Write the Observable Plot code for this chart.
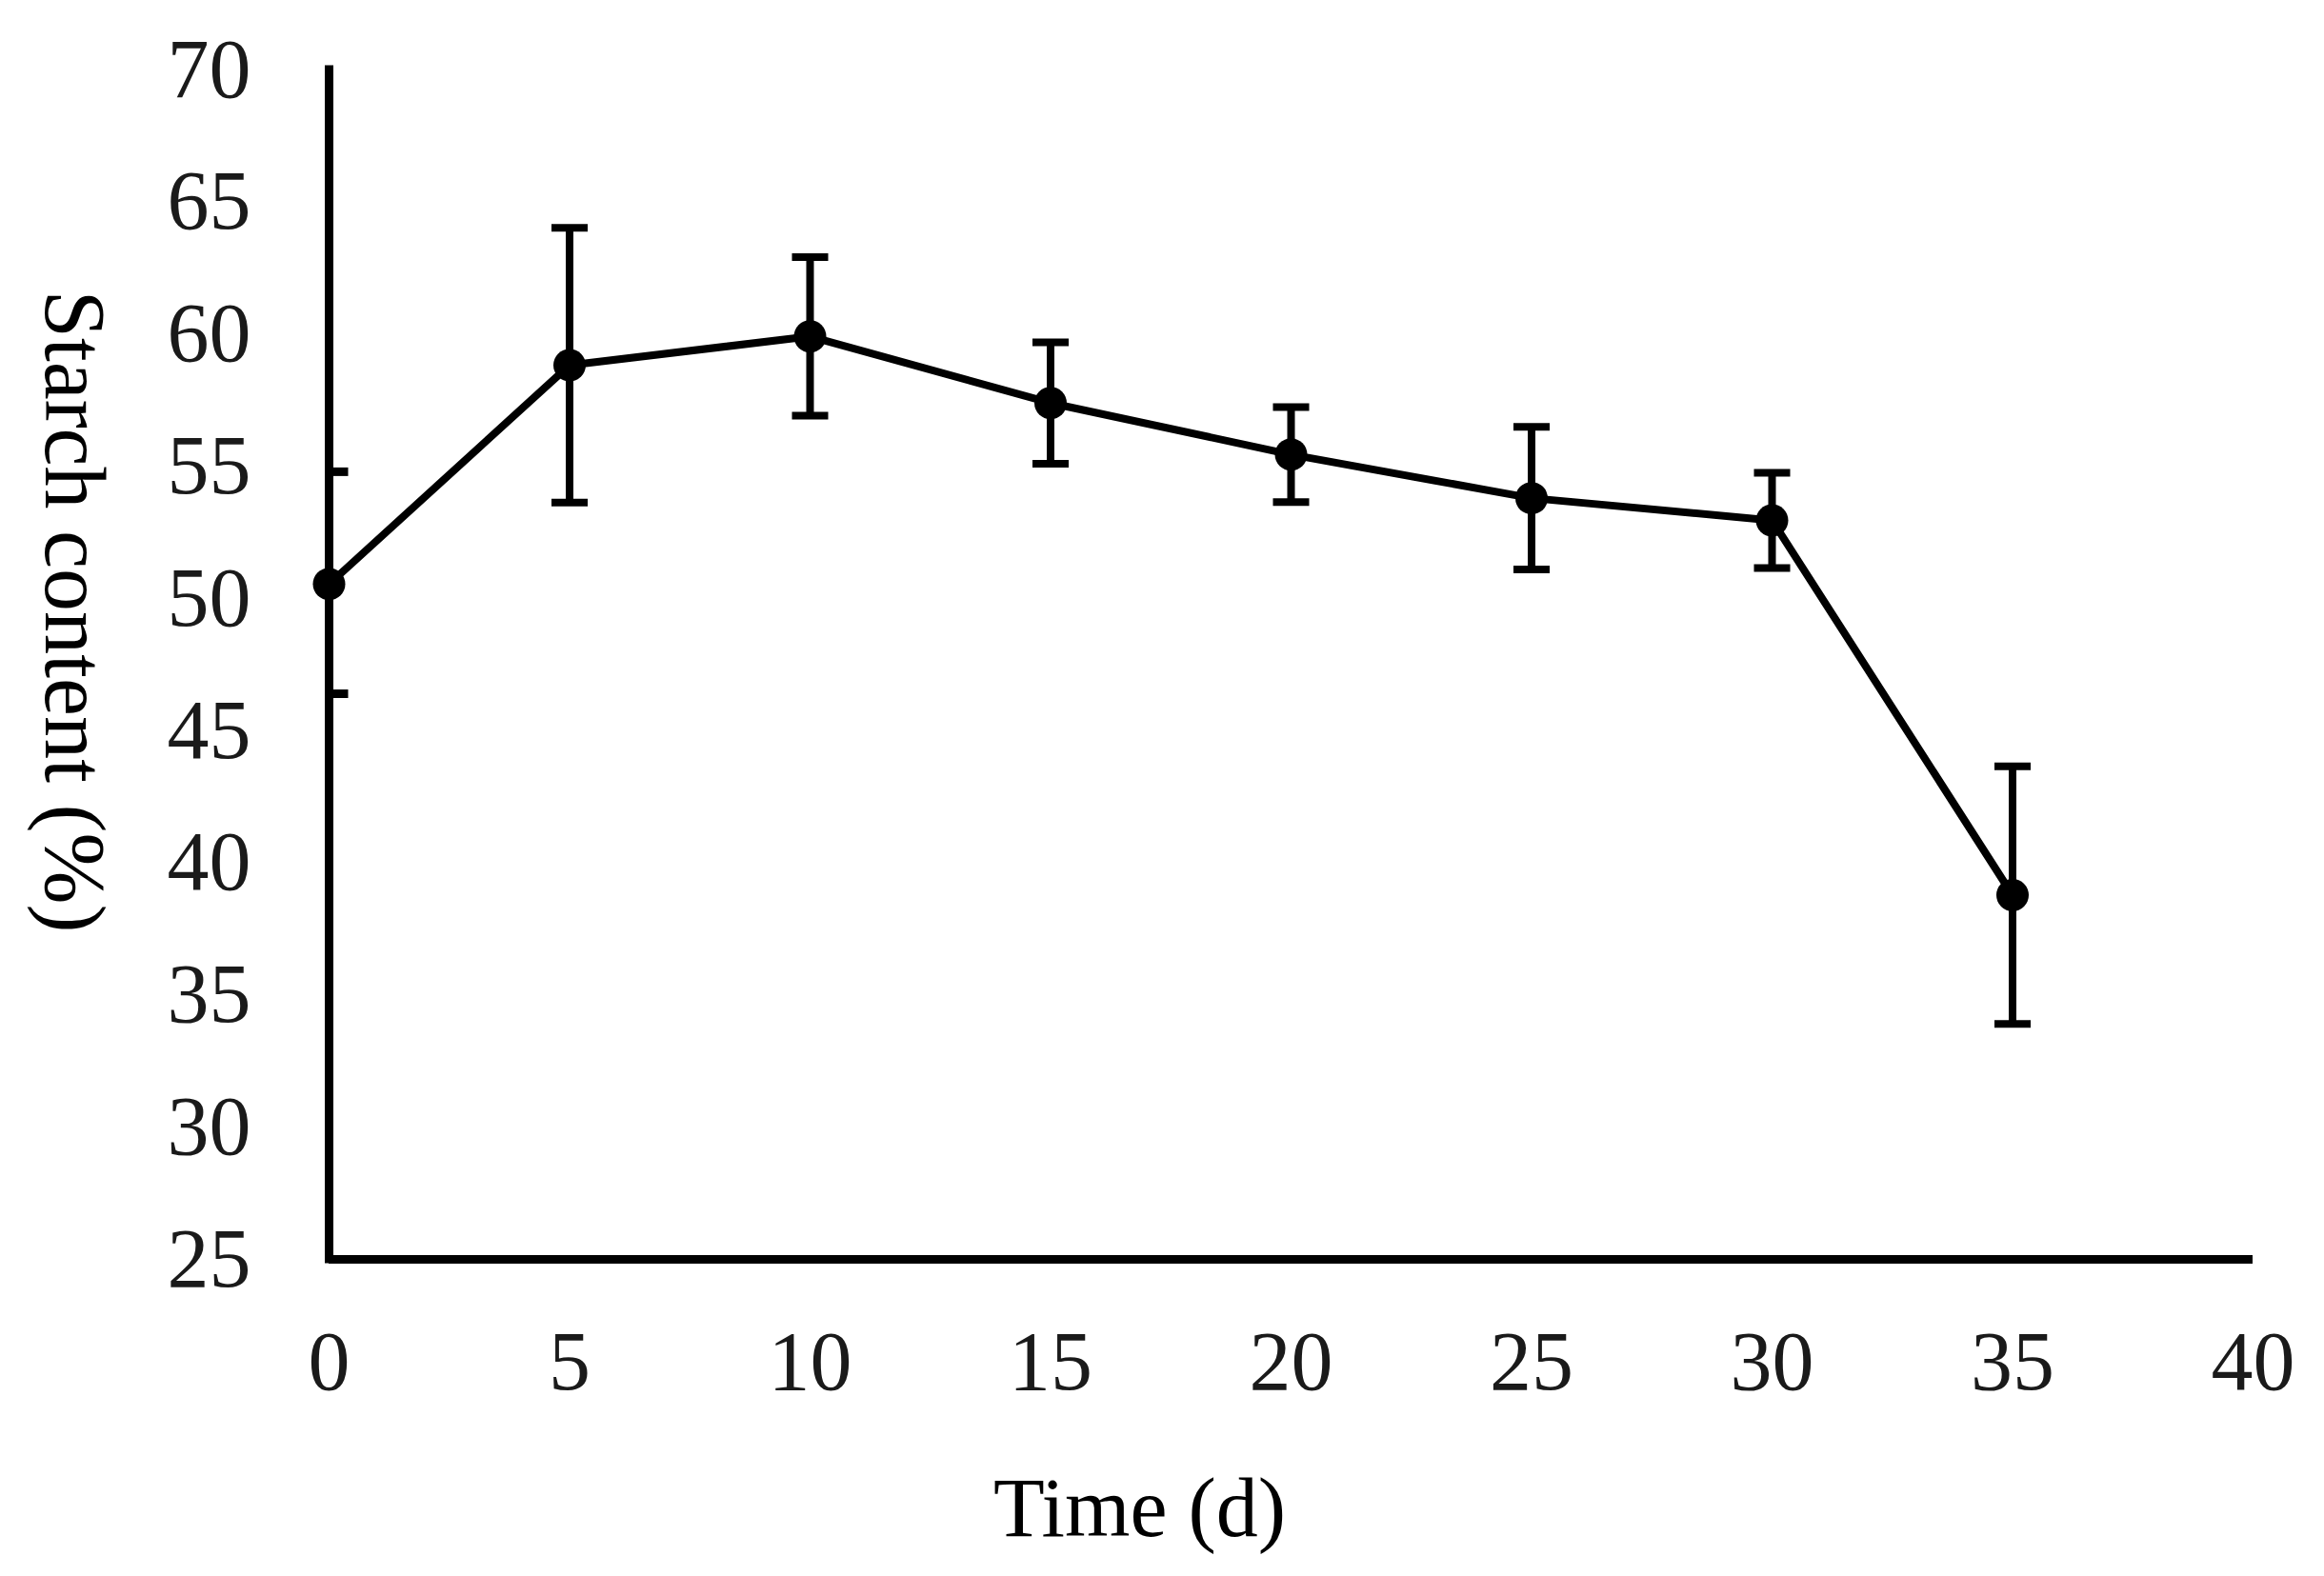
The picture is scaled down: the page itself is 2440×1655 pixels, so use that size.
<!DOCTYPE html>
<html>
<head>
<meta charset="utf-8">
<script src="https://cdn.jsdelivr.net/npm/d3@7"></script>
<script src="https://cdn.jsdelivr.net/npm/@observablehq/plot@0.6"></script>
<style>
  html, body { margin: 0; padding: 0; background: #fff; }
  #chart svg { display: block; }
</style>
</head>
<body>
<div id="chart"></div>
<script>
// Data
const days = [0, 5, 10, 15, 20, 25, 30, 35];
const starch = [50.55, 58.83, 59.92, 57.4, 55.45, 53.8, 52.96, 38.78];
const errors = [0, 5.2, 3.0, 2.3, 1.8, 2.7, 1.8, 4.87];
const xTicks = [0, 5, 10, 15, 20, 25, 30, 35, 40];
const yTicks = [25, 30, 35, 40, 45, 50, 55, 60, 65, 70];
const minorMarks = [54.8, 46.4];
const xTitle = "Time (d)";
const yTitle = "Starch content (%)";

const data = days.map((d, i) => ({day: d, value: starch[i], err: errors[i]}));
const errData = data.filter(d => d.err > 0);
const capRows = errData.flatMap(d => [
  {day: d.day, y: d.value - d.err},
  {day: d.day, y: d.value + d.err}
]);

const capSymbol = {
  draw(ctx, size) {
    const r = Math.sqrt(size / Math.PI);
    ctx.moveTo(-r, 0);
    ctx.lineTo(r, 0);
  }
};
const innerTickSymbol = {
  draw(ctx, size) {
    const r = Math.sqrt(size / Math.PI);
    ctx.moveTo(0, 0);
    ctx.lineTo(r, 0);
  }
};

const chart = Plot.plot({
  width: 2440,
  height: 1655,
  marginLeft: 345,
  marginRight: 75,
  marginTop: 73,
  marginBottom: 333,
  style: {
    fontFamily: "'Liberation Serif', 'Times New Roman', serif",
    fontSize: "88px",
    background: "#ffffff",
    color: "#000"
  },
  x: {domain: [0, 40]},
  y: {domain: [25, 70]},
  marks: [
    Plot.axisX({ticks: xTicks, tickSize: 0, tickPadding: 74, label: null, fill: "#1a1a1a"}),
    Plot.axisY({ticks: yTicks, tickSize: 0, tickPadding: 82, label: null, fill: "#1a1a1a"}),
    Plot.ruleX([0], {stroke: "#000", strokeWidth: 9, strokeLinecap: "square"}),
    Plot.ruleY([25], {stroke: "#000", strokeWidth: 9}),
    Plot.dot(minorMarks, {x: () => 0, y: d => d, symbol: innerTickSymbol, r: 20, stroke: "#000", strokeWidth: 9, fill: "none"}),
    Plot.ruleX(errData, {x: "day", y1: d => d.value - d.err, y2: d => d.value + d.err, stroke: "#000", strokeWidth: 8}),
    Plot.dot(capRows, {x: "day", y: "y", symbol: capSymbol, r: 19, stroke: "#000", strokeWidth: 8, fill: "none"}),
    Plot.line(data, {x: "day", y: "value", stroke: "#000", strokeWidth: 8}),
    Plot.dot(data, {x: "day", y: "value", r: 17, fill: "#000", stroke: "none"}),
    Plot.text([xTitle], {frameAnchor: "bottom", textAnchor: "middle", lineAnchor: "middle", dx: -159, dy: 262, fontSize: 88, fill: "#000"}),
    Plot.text([yTitle], {frameAnchor: "left", textAnchor: "middle", lineAnchor: "middle", rotate: 90, dx: -269, dy: -56, fontSize: 90, fill: "#000"})
  ]
});
document.getElementById("chart").appendChild(chart);
</script>
</body>
</html>
